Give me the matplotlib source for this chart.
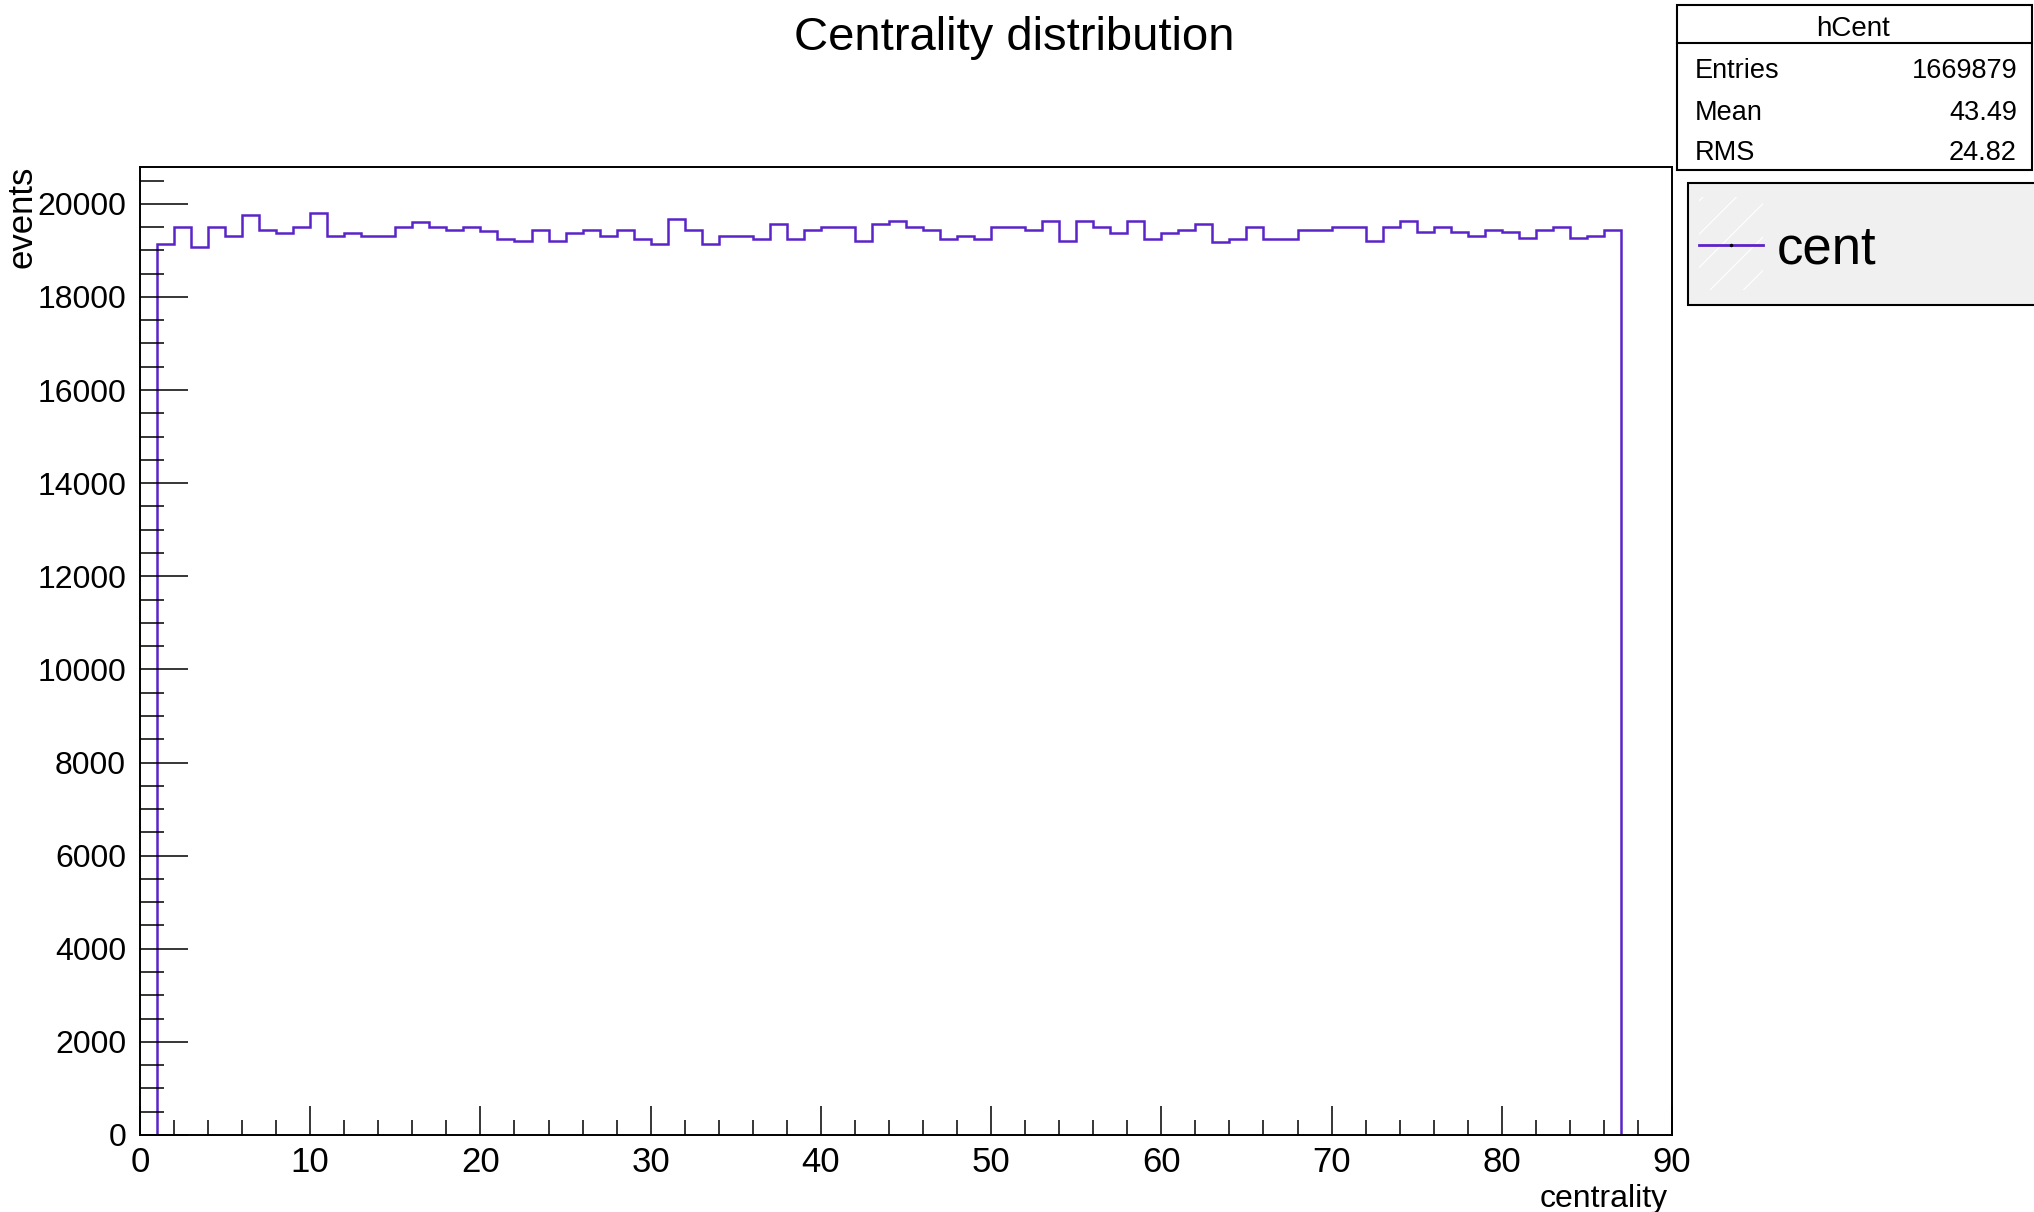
import numpy as np
import matplotlib
matplotlib.use("Agg")
import matplotlib.pyplot as plt
from matplotlib.patches import Rectangle
from matplotlib.lines import Line2D
from matplotlib.ticker import MultipleLocator

# ROOT-like helvetica look
plt.rcParams["font.family"] = ["Liberation Sans", "DejaVu Sans"]

# histogram contents, 1 unit bins from 1 to 87
bin_lo = 1
bin_hi = 87
counts = [
    19134, 19491, 19070, 19491, 19313, 19749, 19442, 19370, 19512, 19800,
    19313, 19370, 19313, 19313, 19491, 19606, 19491, 19442, 19491, 19420,
    19242, 19190, 19427, 19190, 19370, 19427, 19313, 19427, 19242, 19134,
    19678, 19427, 19134, 19313, 19313, 19249, 19563, 19249, 19427, 19512,
    19512, 19190, 19570, 19620, 19498, 19427, 19249, 19313, 19249, 19498,
    19498, 19442, 19620, 19190, 19620, 19498, 19370, 19620, 19249, 19370,
    19427, 19563, 19175, 19249, 19498, 19249, 19249, 19442, 19442, 19498,
    19498, 19190, 19498, 19620, 19384, 19498, 19384, 19313, 19442, 19384,
    19263, 19442, 19498, 19263, 19313, 19442,
]
edges = np.arange(bin_lo, bin_hi + 1)

hist_name = "hCent"
stat_names = ["Entries", "Mean", "RMS"]
stat_values = ["1669879", "43.49", "24.82"]
legend_label = "cent"
line_color = "#5b24c8"

W, H = 2034, 1212


def fx(x):
    return x / W


def fy(y):
    return 1 - y / H


fig = plt.figure(figsize=(W / 100, H / 100), dpi=100)
ax = fig.add_axes([fx(140), fy(1135), fx(1672) - fx(140), fy(167) - fy(1135)])

ax.stairs(counts, edges, baseline=0, color=line_color, linewidth=1.8)

ax.set_xlim(0, 90)
ax.set_ylim(0, 20790)
ax.xaxis.set_major_locator(MultipleLocator(10))
ax.xaxis.set_minor_locator(MultipleLocator(2))
ax.yaxis.set_major_locator(MultipleLocator(2000))
ax.yaxis.set_minor_locator(MultipleLocator(500))

ax.tick_params(axis="x", which="major", direction="in", length=21, width=1.1, pad=8, labelsize=25)
ax.tick_params(axis="x", which="minor", direction="in", length=11, width=1.1)
ax.tick_params(axis="y", which="major", direction="in", length=34.5, width=1.1, pad=10, labelsize=23)
ax.tick_params(axis="y", which="minor", direction="in", length=17, width=1.1)
for s in ax.spines.values():
    s.set_linewidth(1.4)

# axis titles, ROOT style at the ends of the axes
fig.text(fx(1668), fy(1184), "centrality", ha="right", va="top", fontsize=23)
fig.text(fx(22), fy(166), "events", ha="center", va="top", rotation=90, fontsize=25)

fig.text(fx(1014), fy(16), "Centrality distribution", ha="center", va="top", fontsize=34)

# stats box
fig.patches.append(Rectangle((fx(1677), fy(170)), fx(2032) - fx(1677), fy(5) - fy(170),
                             transform=fig.transFigure, facecolor="white", edgecolor="black",
                             linewidth=1.5, zorder=5))
fig.lines.append(Line2D([fx(1677), fx(2032)], [fy(43), fy(43)], transform=fig.transFigure,
                        color="black", linewidth=1.5, zorder=6))
fig.text(fx(1853), fy(36), hist_name, ha="center", va="baseline", fontsize=20, zorder=7)
row_y = [78, 120, 160]
for name, val, y in zip(stat_names, stat_values, row_y):
    fig.text(fx(1695), fy(y), name, ha="left", va="baseline", fontsize=19.5, zorder=7)
    fig.text(fx(2017), fy(y), val, ha="right", va="baseline", fontsize=19.5, zorder=7)

# legend box
fig.patches.append(Rectangle((fx(1688), fy(305)), fx(2060) - fx(1688), fy(183) - fy(305),
                             transform=fig.transFigure, facecolor="#f0f0f0", edgecolor="black",
                             linewidth=1.5, zorder=5))
plt.rcParams["hatch.linewidth"] = 0.8
fig.patches.append(Rectangle((fx(1699), fy(290)), fx(1763) - fx(1699), fy(197) - fy(290),
                             transform=fig.transFigure, fill=False, hatch="/", edgecolor="white",
                             linewidth=0, zorder=6))
fig.lines.append(Line2D([fx(1699), fx(1763)], [fy(245), fy(245)], transform=fig.transFigure,
                        color=line_color, linewidth=2, zorder=7))
fig.lines.append(Line2D([fx(1731)], [fy(245)], transform=fig.transFigure, marker="o",
                        markersize=1.5, color="black", linestyle="none", zorder=8))
fig.text(fx(1777), fy(263), legend_label, ha="left", va="baseline", fontsize=38, zorder=7)

fig.savefig("out.png", dpi=100)
